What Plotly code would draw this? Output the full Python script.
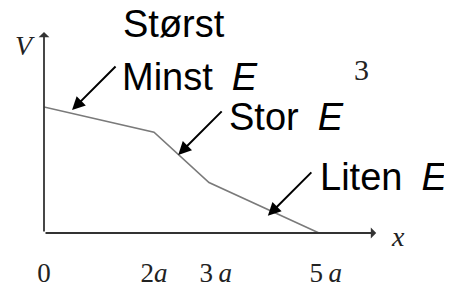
import plotly.graph_objects as go

# data (x in units of a)
x_pos = [0, 2, 3, 5]
v_vals = [2.5, 2.0, 1.0, 0.0]
tick_vals = [0, 2, 3, 5]
tick_text = ["0", "2<i>a</i>", "&nbsp;&nbsp;3&#8201;<i>a</i>", "&nbsp;&nbsp;5&#8201;<i>a</i>"]

labels = ["Størst", "Minst&#8194;<i>E</i>", "Stor&#8194;<i>E</i>", "Liten&#8194;<i>E</i>"]
label_x = [1.42, 1.40, 3.35, 5.00]
label_y = [4.15, 3.09, 2.31, 1.11]

ptr_x = [0.51, 2.44, 4.07]
ptr_y = [2.44, 1.55, 0.34]

PX_X = 55.0
PX_Y = 50.4
L, B = 36, 55
W, H = 444, 280
x_rng = [0, (W - L) / PX_X]
y_rng = [0, (H - B) / PX_Y]

fig = go.Figure()
fig.add_trace(go.Scatter(x=x_pos, y=v_vals, mode="lines",
                         line=dict(color="#7a7a7a", width=1.6),
                         cliponaxis=False, hoverinfo="skip"))

ann = []
# axes with arrows
ann.append(dict(x=6.04, y=0, ax=0, ay=0, xref="x", yref="y", axref="x", ayref="y",
                text="", showarrow=True, arrowhead=1, arrowsize=1, arrowwidth=1.8,
                arrowcolor="#333333", standoff=0, startstandoff=0))
ann.append(dict(x=0, y=3.99, ax=0, ay=0, xref="x", yref="y", axref="x", ayref="y",
                text="", showarrow=True, arrowhead=1, arrowsize=1, arrowwidth=1.8,
                arrowcolor="#333333", standoff=0, startstandoff=0))
# pointer arrows
for px, py in zip(ptr_x, ptr_y):
    ann.append(dict(x=px, y=py, ax=45, ay=-45, xref="x", yref="y",
                    text="", showarrow=True, arrowhead=2, arrowsize=1.3,
                    arrowwidth=2, arrowcolor="black", standoff=0))
# text labels
for t, lx, ly in zip(labels, label_x, label_y):
    ann.append(dict(x=lx, y=ly, xref="x", yref="y", text=t, showarrow=False,
                    xanchor="left", yanchor="middle", borderpad=0,
                    font=dict(family="Liberation Sans", size=38, color="black")))
# serif labels
ann.append(dict(x=5.77, y=3.254, xref="x", yref="y", text="3", showarrow=False,
                font=dict(family="Liberation Serif", size=30, color="#222222")))
ann.append(dict(x=0, y=3.73, xref="paper", yref="y", xanchor="right", xshift=-7,
                text="<i>V</i>", showarrow=False,
                font=dict(family="Liberation Serif", size=28, color="#222222")))
ann.append(dict(x=6.436, y=0, xref="x", yref="y", yshift=-3, text="<i>x</i>", showarrow=False,
                font=dict(family="Liberation Serif", size=28, color="#222222")))

fig.update_layout(
    width=W, height=H,
    margin=dict(l=L, r=0, t=0, b=B, pad=0, autoexpand=False),
    paper_bgcolor="white", plot_bgcolor="white",
    showlegend=False,
    annotations=ann,
    xaxis=dict(range=x_rng, tickvals=tick_vals, ticktext=tick_text,
               showgrid=False, zeroline=False, showline=False, ticks="",
               ticklabelstandoff=21, automargin=False,
               tickfont=dict(family="Liberation Serif", size=27, color="#222222")),
    yaxis=dict(range=y_rng, showgrid=False, zeroline=False, showline=False,
               showticklabels=False, ticks="", automargin=False),
)
fig.write_html("out.html")
